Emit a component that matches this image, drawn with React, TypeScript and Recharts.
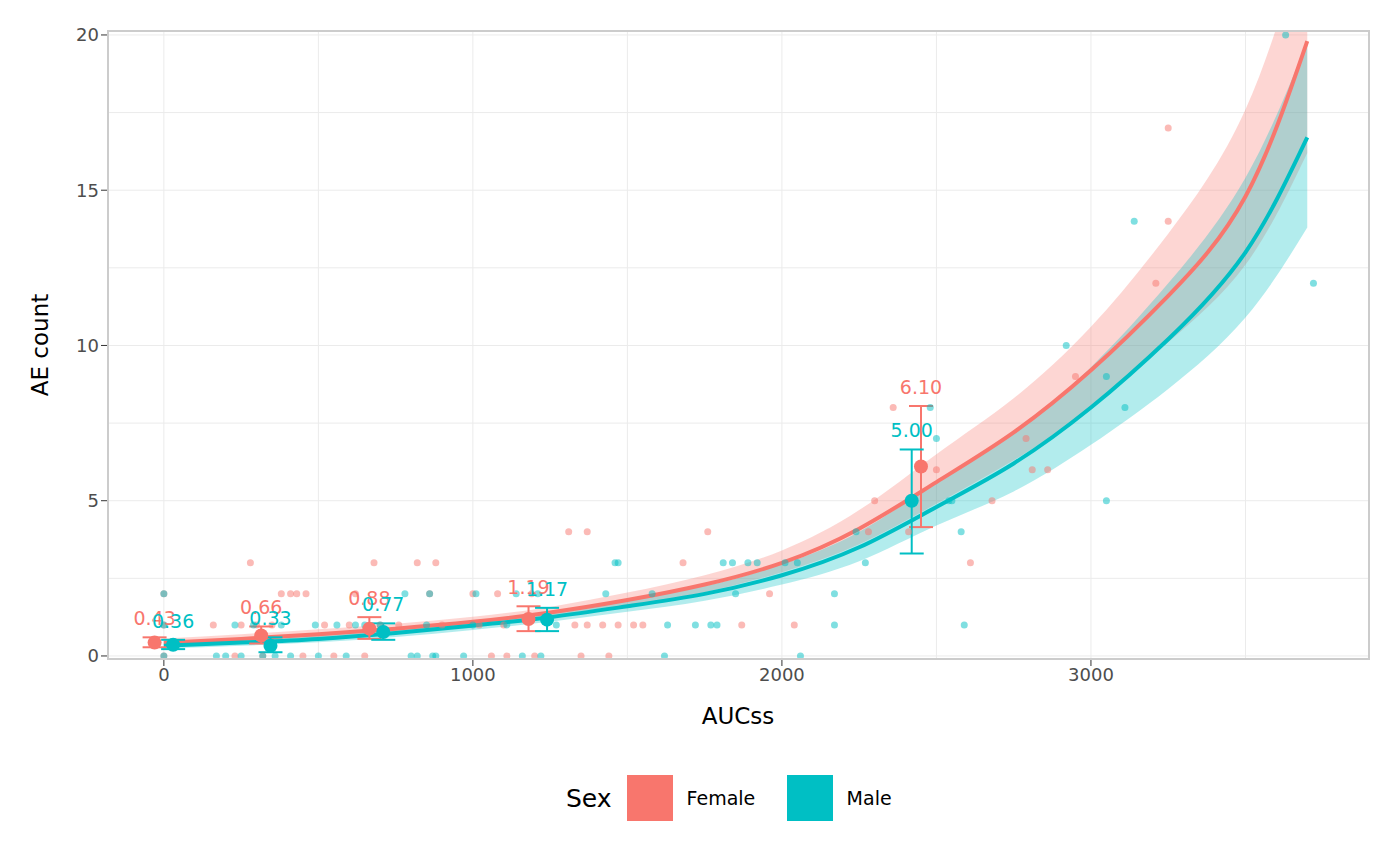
import React from 'react';
import { ComposedChart, Line, Area, Scatter, XAxis, YAxis, CartesianGrid, ErrorBar } from 'recharts';

const FEMALE = '#F8766D';
const MALE = '#00BFC4';

// fitted curve + confidence band
const fitX = [0, 250, 500, 750, 1000, 1250, 1500, 1750, 2000, 2250, 2500, 2750, 3000, 3250, 3500, 3700];
const femaleFit = [0.42, 0.55, 0.7, 0.88, 1.1, 1.4, 1.8, 2.3, 3.0, 4.1, 5.6, 7.2, 9.2, 11.6, 14.8, 19.8];
const femaleLo = [0.3, 0.42, 0.56, 0.74, 0.96, 1.24, 1.6, 2.05, 2.7, 3.6, 4.9, 6.3, 8.0, 10.1, 12.6, 16.2];
const femaleHi = [0.56, 0.7, 0.86, 1.04, 1.26, 1.58, 2.04, 2.6, 3.4, 4.7, 6.5, 8.3, 10.6, 13.6, 17.6, 23.5];
const maleFit = [0.33, 0.43, 0.55, 0.74, 0.98, 1.25, 1.6, 2.0, 2.6, 3.5, 4.8, 6.2, 8.0, 10.2, 13.0, 16.7];
const maleLo = [0.24, 0.33, 0.44, 0.61, 0.84, 1.1, 1.42, 1.78, 2.3, 3.05, 4.2, 5.3, 6.8, 8.6, 10.9, 13.8];
const maleHi = [0.44, 0.55, 0.68, 0.88, 1.13, 1.42, 1.8, 2.25, 2.95, 4.0, 5.6, 7.2, 9.3, 12.0, 15.4, 19.8];

const femalePts: [number, number][] = [
  [0, 0], [0, 1], [0, 2], [160, 1], [230, 0], [250, 1], [280, 3], [300, 1], [320, 0], [350, 1], [380, 2], [410, 2],
  [430, 2], [450, 0], [460, 2], [520, 1], [550, 0], [600, 1], [620, 2], [650, 0], [680, 3], [700, 1], [760, 1],
  [820, 3], [860, 2], [880, 3], [900, 1], [1000, 2], [1020, 1], [1060, 0], [1080, 2], [1100, 1], [1110, 0],
  [1190, 2], [1200, 0], [1310, 4], [1330, 1], [1350, 0], [1370, 1], [1370, 4], [1420, 1], [1440, 0], [1470, 1],
  [1520, 1], [1550, 1], [1680, 3], [1760, 4], [1870, 1], [1960, 2], [2040, 1], [2280, 4], [2300, 5], [2360, 8],
  [2410, 4], [2500, 6], [2610, 3], [2680, 5], [2790, 7], [2810, 6], [2860, 6], [2950, 9], [3210, 12], [3250, 14], [3250, 17],
];
const malePts: [number, number][] = [
  [0, 0], [0, 1], [0, 2], [170, 0], [200, 0], [230, 1], [250, 0], [290, 1], [320, 0], [360, 0], [380, 1], [410, 0],
  [490, 1], [500, 0], [560, 1], [590, 0], [620, 1], [650, 1], [700, 1], [780, 2], [800, 0], [820, 0], [850, 1],
  [860, 2], [870, 0], [880, 0], [970, 0], [1000, 1], [1010, 2], [1110, 1], [1140, 2], [1160, 0], [1210, 2],
  [1220, 0], [1270, 1], [1430, 2], [1460, 3], [1470, 3], [1580, 2], [1620, 0], [1630, 1], [1720, 1], [1770, 1],
  [1790, 1], [1810, 3], [1840, 3], [1850, 2], [1890, 3], [1920, 3], [2010, 3], [2050, 3], [2060, 0], [2170, 2],
  [2170, 1], [2240, 4], [2270, 3], [2480, 8], [2500, 7], [2540, 5], [2550, 5], [2580, 4], [2590, 1], [2920, 10],
  [3050, 9], [3050, 5], [3110, 8], [3140, 14], [3630, 20], [3720, 12],
];

// binned means with CI
const femaleMeanX = [-30, 315, 665, 1180, 2450];
const femaleMean = [0.43, 0.66, 0.88, 1.19, 6.1];
const femaleMeanLo = [0.28, 0.4, 0.55, 0.8, 4.15];
const femaleMeanHi = [0.6, 0.95, 1.25, 1.6, 8.05];
const maleMeanX = [30, 345, 710, 1240, 2420];
const maleMean = [0.36, 0.33, 0.77, 1.17, 5.0];
const maleMeanLo = [0.22, 0.12, 0.52, 0.8, 3.3];
const maleMeanHi = [0.52, 0.6, 1.05, 1.55, 6.65];

const fitData = (fit: number[], lo: number[], hi: number[]) =>
  fitX.map((x, i) => ({ x, y: fit[i], band: [lo[i], hi[i]] }));
const ptData = (pts: [number, number][]) => pts.map(([x, y]) => ({ x, y }));
const meanData = (xs: number[], m: number[], lo: number[], hi: number[]) =>
  xs.map((x, i) => ({ x, y: m[i], err: [m[i] - lo[i], hi[i] - m[i]], lbl: m[i].toFixed(2), top: hi[i] }));

const font = 'DejaVu Sans, sans-serif';

const labelShape = (color: string) => (props: any) => {
  const { cx, cy, payload } = props;
  return (
    <text x={cx} y={cy - 12} textAnchor="middle" fill={color} fontSize={19} fontFamily={font}>
      {payload.lbl}
    </text>
  );
};

export default function App() {
  const fF = fitData(femaleFit, femaleLo, femaleHi);
  const mF = fitData(maleFit, maleLo, maleHi);
  const fM = meanData(femaleMeanX, femaleMean, femaleMeanLo, femaleMeanHi);
  const mM = meanData(maleMeanX, maleMean, maleMeanLo, maleMeanHi);
  const fL = fM.map((d) => ({ x: d.x, y: d.top, lbl: d.lbl }));
  const mL = mM.map((d) => ({ x: d.x, y: d.top, lbl: d.lbl }));
  return (
    <div style={{ position: 'relative', width: 1400, height: 865, margin: -8, background: '#fff', fontFamily: font }}>
      <ComposedChart width={1400} height={865} margin={{ top: 30, right: 30, bottom: 175, left: 40 }}>
        <CartesianGrid
          stroke="#ebebeb"
          horizontalValues={[0, 2.5, 5, 7.5, 10, 12.5, 15, 17.5, 20]}
          verticalValues={[0, 500, 1000, 1500, 2000, 2500, 3000, 3500]}
        />
        <XAxis
          type="number" dataKey="x" domain={[-184, 3903]} ticks={[0, 1000, 2000, 3000]} allowDataOverflow
          tick={{ fontSize: 18, fill: '#4d4d4d', fontFamily: font }} tickLine={{ stroke: '#333' }} axisLine={false} height={30}
        />
        <YAxis
          type="number" dataKey="y" domain={[-0.13, 20.16]} ticks={[0, 5, 10, 15, 20]} allowDataOverflow
          tick={{ fontSize: 18, fill: '#4d4d4d', fontFamily: font }} tickLine={{ stroke: '#333' }} axisLine={false} width={67}
        />
        <Area data={fF} dataKey="band" stroke="none" fill={FEMALE} fillOpacity={0.3} isAnimationActive={false} type="natural" />
        <Area data={mF} dataKey="band" stroke="none" fill={MALE} fillOpacity={0.3} isAnimationActive={false} type="natural" />
        <Scatter data={ptData(femalePts)} fill={FEMALE} shape={(p: any) => <circle cx={p.cx} cy={p.cy} r={3.5} fill={FEMALE} fillOpacity={0.5} />} isAnimationActive={false} />
        <Scatter data={ptData(malePts)} fill={MALE} shape={(p: any) => <circle cx={p.cx} cy={p.cy} r={3.5} fill={MALE} fillOpacity={0.5} />} isAnimationActive={false} />
        <Line data={fF} dataKey="y" stroke={FEMALE} strokeWidth={4} dot={false} type="natural" isAnimationActive={false} />
        <Line data={mF} dataKey="y" stroke={MALE} strokeWidth={4} dot={false} type="natural" isAnimationActive={false} />
        <Scatter data={fM} isAnimationActive={false} shape={(p: any) => <circle cx={p.cx} cy={p.cy} r={7} fill={FEMALE} />}>
          <ErrorBar dataKey="err" direction="y" width={12} stroke={FEMALE} strokeWidth={2} />
        </Scatter>
        <Scatter data={mM} isAnimationActive={false} shape={(p: any) => <circle cx={p.cx} cy={p.cy} r={7} fill={MALE} />}>
          <ErrorBar dataKey="err" direction="y" width={12} stroke={MALE} strokeWidth={2} />
        </Scatter>
        <Scatter data={fL} isAnimationActive={false} shape={labelShape(FEMALE)} />
        <Scatter data={mL} isAnimationActive={false} shape={labelShape(MALE)} />
      </ComposedChart>
      <div style={{ position: 'absolute', left: 107, top: 30, width: 1263, height: 630, border: '2px solid #cccccc', boxSizing: 'border-box', pointerEvents: 'none' }} />
      <div style={{ position: 'absolute', left: 40, top: 345, transform: 'translate(-50%,-50%) rotate(-90deg)', fontSize: 23, whiteSpace: 'nowrap' }}>AE count</div>
      <div style={{ position: 'absolute', left: 738, top: 716, transform: 'translate(-50%,-50%)', fontSize: 23 }}>AUCss</div>
      <div style={{ position: 'absolute', left: 566, top: 775, display: 'flex', alignItems: 'center', fontSize: 19 }}>
        <span style={{ fontSize: 25, marginRight: 15 }}>Sex</span>
        <span style={{ width: 46, height: 46, background: FEMALE, display: 'inline-block', marginRight: 14 }} />
        <span style={{ width: 100 }}>Female</span>
        <span style={{ width: 46, height: 46, background: MALE, display: 'inline-block', marginRight: 14 }} />
        <span>Male</span>
      </div>
    </div>
  );
}
